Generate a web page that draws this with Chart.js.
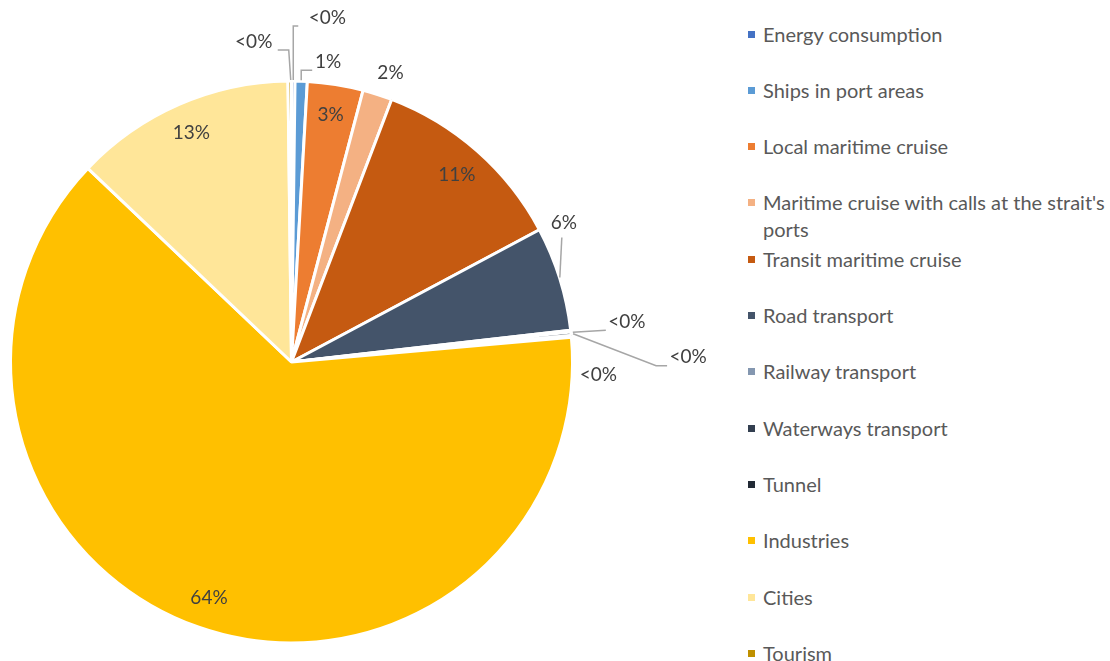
<!DOCTYPE html>
<html>
<head>
<meta charset="utf-8">
<script src="https://cdn.jsdelivr.net/npm/chart.js@4.4.0/dist/chart.umd.min.js"></script>
<style>
  body { margin: 0; background: #fff; }
  #wrap { position: relative; width: 1110px; height: 661px; overflow: hidden; }
  #pieBox { position: absolute; left: 0; top: 0; width: 740px; height: 661px; }
  #legend { position: absolute; left: 0; top: 0; font-family: Lato, "Open Sans", sans-serif; font-size: 20px; color: #595959; }
  .item { position: absolute; left: 748px; width: 362px; }
  .item .box { position: absolute; left: 0; top: 10px; width: 7px; height: 7px; }
  .item .txt { position: absolute; left: 15px; top: 0; width: 347px; line-height: 27px; }
</style>
</head>
<body>
<div id="wrap">
  <div id="pieBox"><canvas id="pie"></canvas></div>
  <div id="legend"></div>
</div>
<script>
// Categories and shares (%), clockwise from 12 o'clock
const categories = [
  "Energy consumption",
  "Ships in port areas",
  "Local maritime cruise",
  "Maritime cruise with calls at the strait's ports",
  "Transit maritime cruise",
  "Road transport",
  "Railway transport",
  "Waterways transport",
  "Tunnel",
  "Industries",
  "Cities",
  "Tourism"
];
const shares = [0.2, 0.7, 3.2, 1.7, 11.4, 6.0, 0.1, 0.2, 0.1, 63.5, 12.7, 0.2];

const colors = [
  "#4472C4", "#5B9BD5", "#ED7D31", "#F4B183", "#C55A11", "#44546A",
  "#8497B0", "#333F50", "#222A35", "#FFC000", "#FFE699", "#BF9000"
];

// label placement: null = inside, otherwise offset from the slice's outer edge point
// plus an optional leader polyline (points relative to that edge point)
const labelPlace = [
  { dx: 34, dy: -63, leader: [[0, -1], [0, -55], [5, -55]] },
  { dx: 27, dy: -19, leader: [[0, -1], [0, -11], [11, -11]] },
  null,
  { dx: 13, dy: -22, leader: null },
  null,
  { dx: 4, dy: -56, leader: [[0, -1], [2, -41]] },
  { dx: 56, dy: -9, leader: [[2, 1], [35, -1]] },
  { dx: 117, dy: 23, leader: [[2, 0], [85, 32], [96, 32]] },
  { dx: 27, dy: 38, leader: null },
  null,
  null,
  { dx: -36, dy: -39, leader: [[1, -1], [-1, -31], [-12, -31]] }
];

function pctText(v, total) {
  const p = Math.round(v / total * 100);
  return p === 0 ? "<0%" : p + "%";
}

const sliceLabels = {
  id: "sliceLabels",
  afterDatasetsDraw(chart) {
    const ctx = chart.ctx;
    const meta = chart.getDatasetMeta(0);
    const data = chart.data.datasets[0].data;
    const total = data.reduce((a, b) => a + b, 0);
    ctx.save();
    ctx.font = "19px Lato, 'Open Sans', sans-serif";
    ctx.fillStyle = "#404040";
    ctx.textAlign = "center";
    ctx.textBaseline = "middle";
    meta.data.forEach((arc, i) => {
      const p = arc.getProps(["x", "y", "startAngle", "endAngle", "outerRadius"], true);
      const mid = (p.startAngle + p.endAngle) / 2;
      const txt = pctText(data[i], total);
      const place = labelPlace[i];
      if (!place) {
        const r = p.outerRadius * 0.89;
        ctx.fillText(txt, p.x + Math.cos(mid) * r, p.y + Math.sin(mid) * r);
        return;
      }
      const ex = p.x + Math.cos(mid) * p.outerRadius;
      const ey = p.y + Math.sin(mid) * p.outerRadius;
      if (place.leader) {
        ctx.strokeStyle = "#A6A6A6";
        ctx.lineWidth = 1.5;
        ctx.beginPath();
        place.leader.forEach((pt, k) => {
          if (k === 0) ctx.moveTo(ex + pt[0], ey + pt[1]);
          else ctx.lineTo(ex + pt[0], ey + pt[1]);
        });
        ctx.stroke();
      }
      ctx.fillText(txt, ex + place.dx, ey + place.dy);
    });
    ctx.restore();
  }
};

const chart = new Chart(document.getElementById("pie"), {
  type: "pie",
  data: {
    labels: categories,
    datasets: [{
      data: shares,
      backgroundColor: colors,
      borderColor: "#ffffff",
      borderWidth: 3
    }]
  },
  options: {
    responsive: true,
    maintainAspectRatio: false,
    animation: false,
    layout: { padding: { left: 9, top: 79, right: 166, bottom: 16 } },
    plugins: {
      legend: { display: false },
      tooltip: { enabled: false }
    }
  },
  plugins: [sliceLabels]
});

// legend built from the chart's own labels
const legend = document.getElementById("legend");
chart.data.labels.forEach((lab, i) => {
  const item = document.createElement("div");
  item.className = "item";
  item.style.top = (34 + i * 56.3 - 13.5) + "px";
  item.innerHTML = '<span class="box" style="background:' + colors[i] + '"></span><span class="txt">' + lab + '</span>';
  legend.appendChild(item);
});
</script>
</body>
</html>
